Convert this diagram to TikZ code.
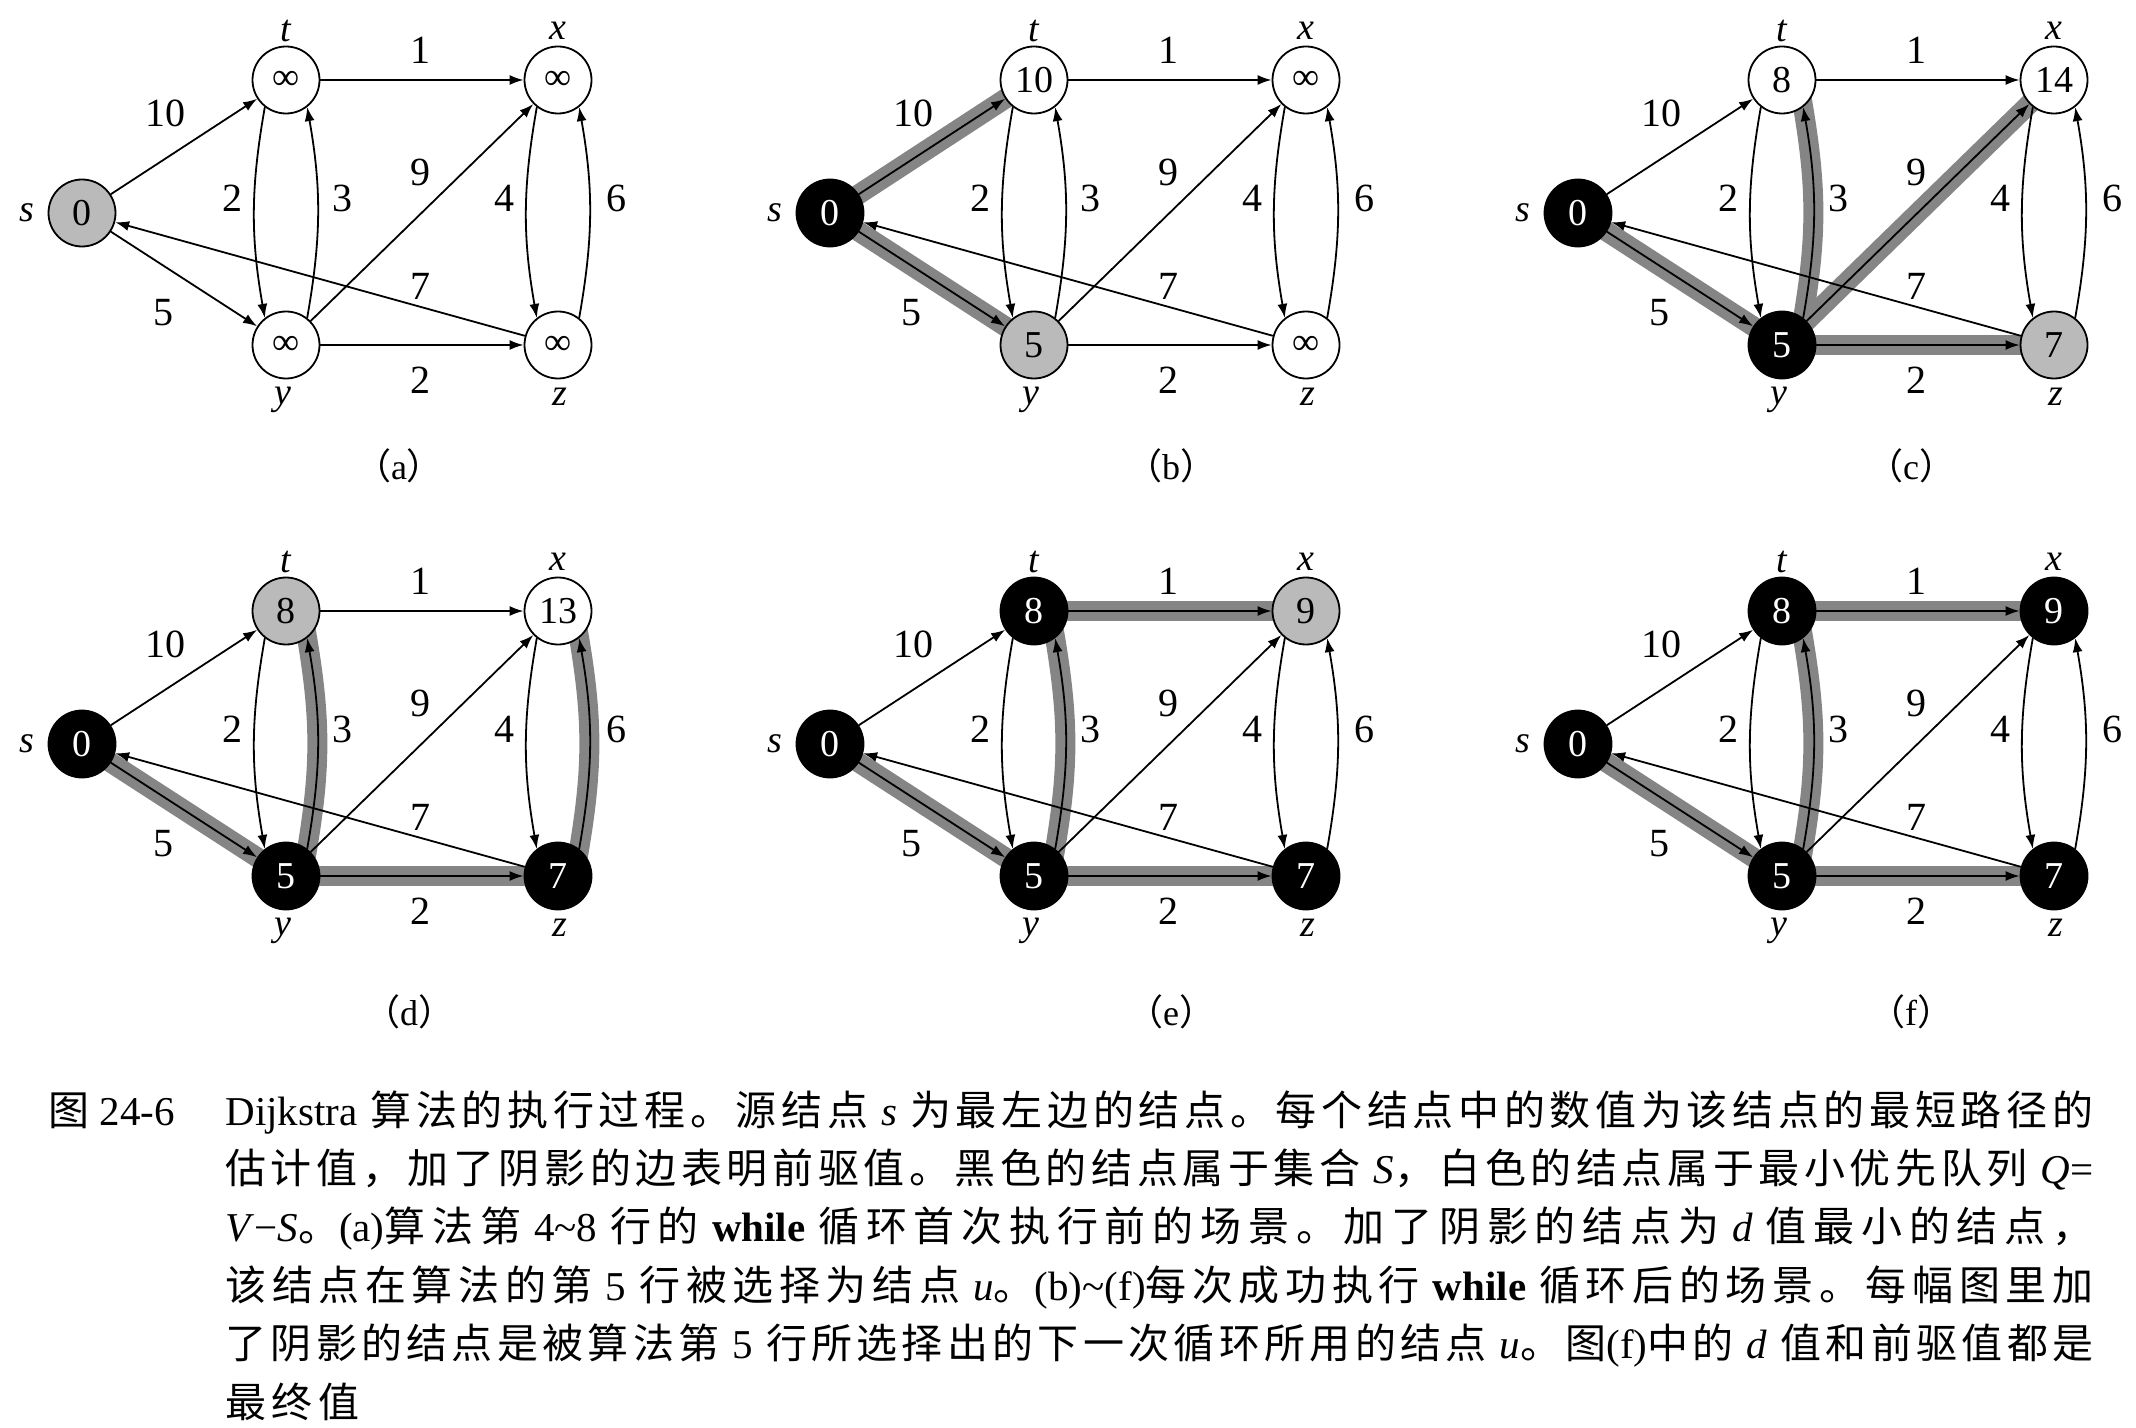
\documentclass[tikz,border=0pt]{standalone}
\usepackage{fontspec}
\setmainfont{Liberation Serif}
\newfontfamily\cjk{Noto Sans CJK SC}
\usetikzlibrary{arrows.meta}
\pgfdeclarelayer{bg}
\pgfsetlayers{bg,main}
\XeTeXinterchartokenstate=1
\newcount\mycnt
\mycnt="4E00 \loop\XeTeXcharclass\mycnt=7 \advance\mycnt by 1 \ifnum\mycnt<"A000 \repeat
\mycnt="3000 \loop\XeTeXcharclass\mycnt=7 \advance\mycnt by 1 \ifnum\mycnt<"3040 \repeat
\mycnt="FF00 \loop\XeTeXcharclass\mycnt=7 \advance\mycnt by 1 \ifnum\mycnt<"FFF0 \repeat
\XeTeXinterchartoks 7 7 = {\hskip 0pt plus 1fil\relax}
\newcommand\C[1]{{\cjk #1}}
\newcommand\capline[2]{{\spaceskip=6.5pt\relax\makebox[#1][s]{#2}}}
\tikzset{
  v/.style={circle, draw, line width=0.9pt, minimum size=33.5pt, inner sep=0pt,
    font=\fontsize{19}{19}\selectfont},
  wn/.style={v, fill=white},
  gn/.style={v, fill=black!27},
  bn/.style={v, fill=black, text=white},
  ed/.style={draw, line width=0.9pt, -{Latex[length=7pt,width=5pt]}},
  band/.style={draw=black!48, line width=10pt, shorten <=-6pt, shorten >=-6pt},
  wl/.style={font=\fontsize{20}{20}\selectfont, inner sep=0pt},
  nm/.style={font=\fontsize{19}{19}\selectfont\itshape, inner sep=0pt},
  pl/.style={font=\fontsize{18}{18}\selectfont, inner sep=0pt},
  captxt/.style={font=\fontsize{20.5}{20.5}\selectfont, inner sep=0pt, anchor=base west},
  lST/.style=ed, lSY/.style=ed, lTX/.style=ed, lTY/.style=ed, lYT/.style=ed,
  lYX/.style=ed, lYZ/.style=ed, lXZ/.style=ed, lZX/.style=ed, lZS/.style=ed
}
\newcommand\setvals[5]{\def\vS{#1}\def\vT{#2}\def\vX{#3}\def\vY{#4}\def\vZ{#5}}
\newcommand\edgeset[2]{%
  \path[#2ST] (#1s) -- (#1t);
  \path[#2SY] (#1s) -- (#1y);
  \path[#2TX] (#1t) -- (#1x);
  \path[#2TY] (#1t.-128) to[bend right=10] (#1y.128);
  \path[#2YT] (#1y.52) to[bend right=10] (#1t.-52);
  \path[#2YX] (#1y) -- (#1x);
  \path[#2YZ] (#1y) -- (#1z);
  \path[#2XZ] (#1x.-128) to[bend right=10] (#1z.128);
  \path[#2ZX] (#1z.52) to[bend right=10] (#1x.-52);
  \path[#2ZS] (#1z) -- (#1s);
}
\newcommand\panel[9]{%
  \begin{scope}[shift={(#2,#3)}]
    \tikzset{bST/.style={}, bSY/.style={}, bTX/.style={}, bTY/.style={}, bYT/.style={},
      bYX/.style={}, bYZ/.style={}, bXZ/.style={}, bZX/.style={}, bZS/.style={}, #9}
    \node[#4] (#1s) at (82,213) {\vS};
    \node[#5] (#1t) at (286,80) {\vT};
    \node[#6] (#1x) at (558,80) {\vX};
    \node[#7] (#1y) at (286,345) {\vY};
    \node[#8] (#1z) at (558,345) {\vZ};
    \node[nm] (#1ns) at (27,213) {s};
    \node[nm] (#1nt) at (286,31) {t};
    \node[nm] (#1nx) at (558,31) {x};
    \node[nm] (#1ny) at (283,400) {y};
    \node[nm] (#1nz) at (560,397) {z};
    \node[wl] (#1w1) at (165,113) {10};
    \node[wl] (#1w2) at (420,50) {1};
    \node[wl] (#1w3) at (232,198) {2};
    \node[wl] (#1w4) at (342,198) {3};
    \node[wl] (#1w5) at (420,172) {9};
    \node[wl] (#1w6) at (504,198) {4};
    \node[wl] (#1w7) at (616,198) {6};
    \node[wl] (#1w8) at (420,286) {7};
    \node[wl] (#1w9) at (163,313) {5};
    \node[wl] (#1w10) at (420,380) {2};
    \begin{pgfonlayer}{bg}
      \edgeset{#1}{b}
      \edgeset{#1}{l}
    \end{pgfonlayer}
  \end{scope}}
\begin{document}
\begin{tikzpicture}[x=0.5pt, y=-0.5pt]
\useasboundingbox (0,0) rectangle (2136,1428);
% (a)
\setvals{0}{∞}{∞}{∞}{∞}
\panel{pa}{0}{0}{gn}{wn}{wn}{wn}{wn}{}
% (b)
\setvals{0}{10}{∞}{5}{∞}
\panel{pb}{748}{0}{bn}{wn}{wn}{gn}{wn}{bST/.style=band, bSY/.style=band}
% (c)
\setvals{0}{8}{14}{5}{7}
\panel{pc}{1496}{0}{bn}{wn}{wn}{bn}{gn}{bSY/.style=band, bYT/.style=band, bYX/.style=band, bYZ/.style=band}
% (d)
\setvals{0}{8}{13}{5}{7}
\panel{pd}{0}{531}{bn}{gn}{wn}{bn}{bn}{bSY/.style=band, bYT/.style=band, bYZ/.style=band, bZX/.style=band}
% (e)
\setvals{0}{8}{9}{5}{7}
\panel{pe}{748}{531}{bn}{bn}{gn}{bn}{bn}{bSY/.style=band, bYT/.style=band, bTX/.style=band, bYZ/.style=band}
% (f)
\setvals{0}{8}{9}{5}{7}
\panel{pf}{1496}{531}{bn}{bn}{bn}{bn}{bn}{bSY/.style=band, bYT/.style=band, bTX/.style=band, bYZ/.style=band}
% panel labels
\node[pl] (la) at (399,466) {\C{（}a\C{）}};
\node[pl] (lb) at (1171,466) {\C{（}b\C{）}};
\node[pl] (lc) at (1911,466) {\C{（}c\C{）}};
\node[pl] (ld) at (409,1012) {\C{（}d\C{）}};
\node[pl] (le) at (1171,1012) {\C{（}e\C{）}};
\node[pl] (lf) at (1911,1012) {\C{（}f\C{）}};
% caption
\node[captxt] (c0) at (48,1125) {\C{图} 24-6};
\node[captxt] (c1) at (225,1125) {\capline{934pt}{Dijkstra \C{算法的执行过程。源结点} \textit{s} \C{为最左边的结点。每个结点中的数值为该结点的最短路径的}}};
\node[captxt] (c2) at (225,1183.4) {\capline{934pt}{\C{估计值，加了阴影的边表明前驱值。黑色的结点属于集合} \textit{S}\C{，白色的结点属于最小优先队列} \textit{Q}=}};
\node[captxt] (c3) at (225,1241.8) {\capline{934pt}{\textit{V}−\textit{S}\C{。}(a)\C{算法第} 4\textasciitilde 8 \C{行的} \textbf{while} \C{循环首次执行前的场景。加了阴影的结点为} \textit{d} \C{值最小的结点，}}};
\node[captxt] (c4) at (225,1300.2) {\capline{934pt}{\C{该结点在算法的第} 5 \C{行被选择为结点} \textit{u}\C{。}(b)\textasciitilde(f)\C{每次成功执行} \textbf{while} \C{循环后的场景。每幅图里加}}};
\node[captxt] (c5) at (225,1358.6) {\capline{934pt}{\C{了阴影的结点是被算法第} 5 \C{行所选择出的下一次循环所用的结点} \textit{u}\C{。图}(f)\C{中的} \textit{d} \C{值和前驱值都是}}};
\node[captxt] (c6) at (225,1417) {\capline{67pt}{\C{最终值}}};
\end{tikzpicture}
\end{document}
